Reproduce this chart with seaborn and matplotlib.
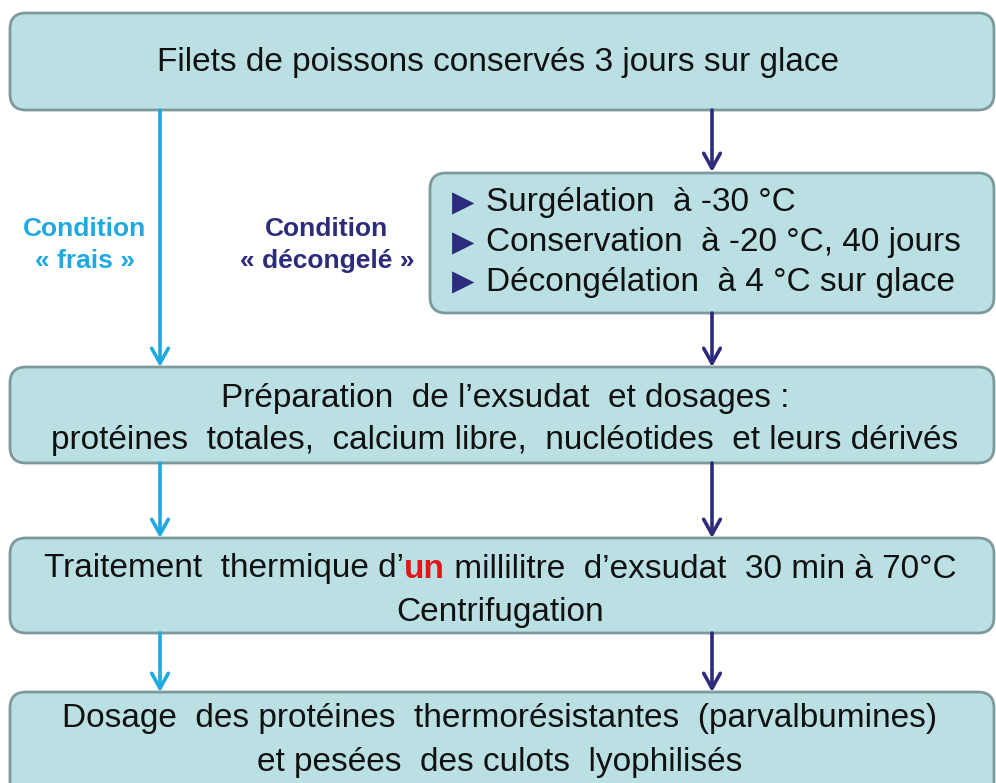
import matplotlib
matplotlib.use("Agg")
import matplotlib.pyplot as plt
import seaborn as sns
from matplotlib.patches import FancyBboxPatch
from matplotlib.offsetbox import TextArea, HPacker, AnnotationBbox

# texts of the flowchart
title_text = "Filets de poissons conservés 3 jours sur glace"
freeze_steps = ["Surgélation  à -30 °C",
                "Conservation  à -20 °C, 40 jours",
                "Décongélation  à 4 °C sur glace"]
prep_lines = ["Préparation  de l’exsudat  et dosages :",
              "protéines  totales,  calcium libre,  nucléotides  et leurs dérivés"]
heat_parts = ["Traitement  thermique d’", "un", " millilitre  d’exsudat  30 min à 70°C"]
heat_line2 = "Centrifugation"
final_lines = ["Dosage  des protéines  thermorésistantes  (parvalbumines)",
               "et pesées  des culots  lyophilisés"]
cond_labels = ["Condition\n« frais »", "Condition\n« décongelé »"]

sns.set_theme(style="white")
plt.rcParams['font.family'] = ['Liberation Sans', 'DejaVu Sans']

FILL = "#bae0e4"
EDGE = "#7e999b"
CYAN = "#1fa9e1"
NAVY = "#2c2b7c"
INK = "#111111"
FS = 24

fig = plt.figure(figsize=(9.96, 7.83), dpi=100)
ax = fig.add_axes([0, 0, 1, 1])
ax.set_xlim(0, 996)
ax.set_ylim(783, 0)
ax.axis("off")


def box(x0, y0, x1, y1):
    p = FancyBboxPatch((x0, y0), x1 - x0, y1 - y0,
                       boxstyle="round,pad=0,rounding_size=16",
                       fc=FILL, ec=EDGE, lw=2, zorder=1)
    ax.add_patch(p)


def arrow(x, y0, y1, color):
    ax.annotate("", xy=(x, y1), xytext=(x, y0),
                arrowprops=dict(arrowstyle="->,head_length=0.9,head_width=0.5",
                                color=color, lw=2.6, shrinkA=0, shrinkB=0),
                zorder=2)


# boxes
box(10, 13, 994, 110)
box(430, 173, 994, 313)
box(10, 367, 994, 463)
box(10, 538, 994, 633)
box(10, 692, 994, 800)

# arrows
x_fresh, x_thaw = 160, 712
arrow(x_fresh, 110, 367, CYAN)
arrow(x_thaw, 110, 172, NAVY)
arrow(x_thaw, 313, 367, NAVY)
for y0, y1 in [(463, 538), (633, 692)]:
    arrow(x_fresh, y0, y1, CYAN)
    arrow(x_thaw, y0, y1, NAVY)

# box texts
ax.text(498, 63, title_text, ha="center", va="center", fontsize=FS, color=INK)

for s, y in zip(freeze_steps, [203, 243, 282]):
    ax.text(463, y, "▶", ha="center", va="center", fontsize=21, color=NAVY,
            family=['DejaVu Sans'])
    ax.text(486, y, s, ha="left", va="center", fontsize=FS, color=INK)

for s, y in zip(prep_lines, [398, 441]):
    ax.text(505, y, s, ha="center", va="center", fontsize=FS, color=INK)

areas = [TextArea(heat_parts[0], textprops=dict(fontsize=FS, color=INK)),
         TextArea(heat_parts[1], textprops=dict(fontsize=FS, color="#e2151b", fontweight="bold")),
         TextArea(heat_parts[2], textprops=dict(fontsize=FS, color=INK))]
pack = HPacker(children=areas, pad=0, sep=0, align="baseline")
ab = AnnotationBbox(pack, (500, 569), xycoords="data", frameon=False,
                    box_alignment=(0.5, 0.5), pad=0)
ax.add_artist(ab)
ax.text(500, 613, heat_line2, ha="center", va="center", fontsize=FS, color=INK)

for s, y in zip(final_lines, [718, 762]):
    ax.text(500, y, s, ha="center", va="center", fontsize=FS, color=INK)

# condition labels
ax.text(85, 245, cond_labels[0], ha="center", va="center", fontsize=19,
        fontweight="bold", color=CYAN, linespacing=1.4)
ax.text(327, 245, cond_labels[1], ha="center", va="center", fontsize=19,
        fontweight="bold", color=NAVY, linespacing=1.4)

fig.savefig("out.png", dpi=100, facecolor="white")
